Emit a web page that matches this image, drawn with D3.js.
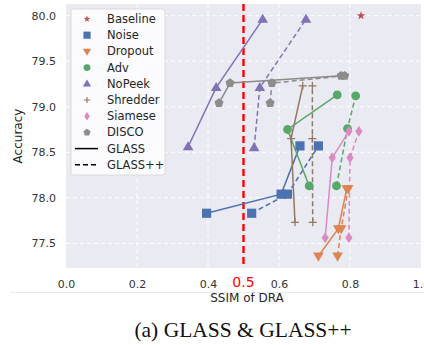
<!DOCTYPE html>
<html>
<head>
<meta charset="utf-8">
<script src="https://cdn.jsdelivr.net/npm/d3@7"></script>
<style>
  body { margin: 0; background: #fff; }
  svg { display: block; font-family: "DejaVu Sans", sans-serif; }
</style>
</head>
<body>
<div id="chart"></div>
<script>
// legend order, colours (seaborn "deep")
const methods = ["Baseline", "Noise", "Dropout", "Adv", "NoPeek", "Shredder", "Siamese", "DISCO"];
const colors  = ["#C44E52", "#4C72B0", "#DD8452", "#55A868", "#8172B3", "#937860", "#DA8BC3", "#8C8C8C"];
const shapes  = ["star", "square", "triDown", "circle", "triUp", "plus", "thinDiamond", "pentagon"];

// [SSIM, accuracy] points
const baseline     = [[0.831, 80.0]];
const noiseGlass   = [[0.396, 77.83], [0.606, 78.04], [0.659, 78.57]];
const noiseGlassPP = [[0.523, 77.83], [0.624, 78.04], [0.711, 78.57]];
const dropGlass    = [[0.711, 77.36], [0.767, 77.66], [0.791, 78.10]];
const dropGlassPP  = [[0.765, 77.36], [0.775, 77.66], [0.795, 78.10]];
const advGlass     = [[0.685, 78.13], [0.624, 78.75], [0.764, 79.13]];
const advGlassPP   = [[0.762, 78.13], [0.793, 78.76], [0.816, 79.12]];
const nopeekGlass  = [[0.344, 78.56], [0.423, 79.21], [0.554, 79.96]];
const nopeekGlassPP= [[0.530, 78.55], [0.546, 79.21], [0.676, 79.96]];
const shredGlass   = [[0.645, 77.73], [0.634, 78.65], [0.667, 79.23]];
const shredGlassPP = [[0.695, 77.73], [0.694, 78.65], [0.694, 79.23]];
const siamGlass    = [[0.730, 77.56], [0.750, 78.44], [0.797, 78.73]];
const siamGlassPP  = [[0.797, 77.56], [0.800, 78.44], [0.825, 78.73]];
const discoGlass   = [[0.431, 79.04], [0.462, 79.26], [0.775, 79.34]];
const discoGlassPP = [[0.575, 79.04], [0.580, 79.26], [0.785, 79.34]];

const xTicks = [0.0, 0.2, 0.4, 0.6, 0.8, 1.0];
const yTicks = [77.5, 78.0, 78.5, 79.0, 79.5, 80.0];
const threshold = 0.5;

const series = [
  {name: "Noise", pts: noiseGlass, dash: false}, {name: "Noise", pts: noiseGlassPP, dash: true},
  {name: "Dropout", pts: dropGlass, dash: false}, {name: "Dropout", pts: dropGlassPP, dash: true},
  {name: "Adv", pts: advGlass, dash: false}, {name: "Adv", pts: advGlassPP, dash: true},
  {name: "NoPeek", pts: nopeekGlass, dash: false}, {name: "NoPeek", pts: nopeekGlassPP, dash: true},
  {name: "Shredder", pts: shredGlass, dash: false}, {name: "Shredder", pts: shredGlassPP, dash: true},
  {name: "Siamese", pts: siamGlass, dash: false}, {name: "Siamese", pts: siamGlassPP, dash: true},
  {name: "DISCO", pts: discoGlass, dash: false}, {name: "DISCO", pts: discoGlassPP, dash: true}
];

const W = 424, H = 345;
const plot = {left: 66, right: 421, top: 4, bottom: 268};

const x = d3.scaleLinear().domain([0, 1]).range([plot.left, plot.right]);
const y = d3.scaleLinear().domain([77.5, 80.0]).range([243.3, 15.7]);
y.domain([y.invert(plot.bottom), y.invert(plot.top)]).range([plot.bottom, plot.top]);

const colorOf = d3.scaleOrdinal().domain(methods).range(colors);
const shapeOf = d3.scaleOrdinal().domain(methods).range(shapes);

// marker path generator, s = scale
function markerPath(shape, s) {
  const p = d3.path();
  if (shape === "square") {
    const h = 4.6 * s; p.rect(-h, -h, 2 * h, 2 * h);
  } else if (shape === "circle") {
    p.arc(0, 0, 4.4 * s, 0, 2 * Math.PI);
  } else if (shape === "triUp") {
    const r = 5.6 * s;
    p.moveTo(0, -r); p.lineTo(r * 0.95, r * 0.62); p.lineTo(-r * 0.95, r * 0.62); p.closePath();
  } else if (shape === "triDown") {
    const r = 5.6 * s;
    p.moveTo(0, r); p.lineTo(r * 0.95, -r * 0.62); p.lineTo(-r * 0.95, -r * 0.62); p.closePath();
  } else if (shape === "thinDiamond") {
    const w = 3.6 * s, h = 5.4 * s;
    p.moveTo(0, -h); p.lineTo(w, 0); p.lineTo(0, h); p.lineTo(-w, 0); p.closePath();
  } else if (shape === "pentagon") {
    const r = 4.8 * s;
    for (let i = 0; i < 5; i++) {
      const a = -Math.PI / 2 + i * 2 * Math.PI / 5;
      i ? p.lineTo(r * Math.cos(a), r * Math.sin(a)) : p.moveTo(r * Math.cos(a), r * Math.sin(a));
    }
    p.closePath();
  } else if (shape === "star") {
    const R = 4.4 * s, r = R * 0.42;
    for (let i = 0; i < 10; i++) {
      const a = -Math.PI / 2 + i * Math.PI / 5, rr = i % 2 ? r : R;
      i ? p.lineTo(rr * Math.cos(a), rr * Math.sin(a)) : p.moveTo(rr * Math.cos(a), rr * Math.sin(a));
    }
    p.closePath();
  } else if (shape === "plus") {
    const h = 4 * s;
    p.moveTo(-h, 0); p.lineTo(h, 0); p.moveTo(0, -h); p.lineTo(0, h);
  }
  return p.toString();
}

function drawMarker(g, name, s) {
  const shape = shapeOf(name), c = colorOf(name);
  const m = g.append("path").attr("d", markerPath(shape, s));
  if (shape === "plus") m.attr("fill", "none").attr("stroke", c).attr("stroke-width", 1.2);
  else m.attr("fill", c);
  return m;
}

const svg = d3.select("#chart").append("svg").attr("width", W).attr("height", H);

// background + grid
svg.append("rect")
  .attr("x", plot.left).attr("y", plot.top)
  .attr("width", plot.right - plot.left).attr("height", plot.bottom - plot.top)
  .attr("fill", "#EAEAF2");

const grid = svg.append("g").attr("class", "grid")
  .attr("stroke", "#fff").attr("stroke-width", 1).attr("stroke-dasharray", "4,3");
grid.selectAll("line.v").data(xTicks.filter(t => t > 0 && t < 1)).join("line").attr("class", "v")
  .attr("x1", d => x(d)).attr("x2", d => x(d)).attr("y1", plot.top).attr("y2", plot.bottom);
grid.selectAll("line.h").data(yTicks).join("line").attr("class", "h")
  .attr("x1", plot.left).attr("x2", plot.right).attr("y1", d => y(d)).attr("y2", d => y(d));

// axes (labels only, seaborn style)
const xAxis = svg.append("g").attr("transform", `translate(0,${plot.bottom})`)
  .call(d3.axisBottom(x).tickValues(xTicks).tickFormat(d3.format(".1f")).tickSize(0).tickPadding(12));
xAxis.select(".domain").remove();
xAxis.selectAll("text").attr("font-size", 11).attr("fill", "#333")
  .attr("font-family", "DejaVu Sans, sans-serif");

const yAxis = svg.append("g").attr("transform", `translate(${plot.left},0)`)
  .call(d3.axisLeft(y).tickValues(yTicks).tickFormat(d3.format(".1f")).tickSize(0).tickPadding(10));
yAxis.select(".domain").remove();
yAxis.selectAll("text").attr("font-size", 11).attr("fill", "#333")
  .attr("font-family", "DejaVu Sans, sans-serif");

// threshold line
svg.append("line")
  .attr("x1", x(threshold)).attr("x2", x(threshold))
  .attr("y1", plot.top).attr("y2", plot.bottom)
  .attr("stroke", "#ff0000").attr("stroke-width", 2.4).attr("stroke-dasharray", "7,4");
svg.append("text")
  .attr("x", x(threshold)).attr("y", 287)
  .attr("text-anchor", "middle").attr("fill", "#ff0000").attr("font-size", 14)
  .text("0.5");

// lines + markers
const line = d3.line().x(d => x(d[0])).y(d => y(d[1]));
const dataG = svg.append("g").attr("class", "series");
series.forEach(s => {
  dataG.append("path").datum(s.pts)
    .attr("d", line).attr("fill", "none")
    .attr("stroke", colorOf(s.name)).attr("stroke-width", 1.5)
    .attr("stroke-dasharray", s.dash ? "5,3" : null);
});
series.forEach(s => {
  s.pts.forEach(p => {
    const g = dataG.append("g").attr("transform", `translate(${x(p[0])},${y(p[1])})`);
    drawMarker(g, s.name, 1);
  });
});
baseline.forEach(p => {
  const g = dataG.append("g").attr("transform", `translate(${x(p[0])},${y(p[1])})`);
  drawMarker(g, "Baseline", 1);
});

// legend
const leg = svg.append("g").attr("class", "legend");
leg.append("rect").attr("x", 71).attr("y", 9).attr("width", 94).attr("height", 166)
  .attr("rx", 3).attr("fill", "#fff").attr("fill-opacity", 0.8)
  .attr("stroke", "#d6d6d6").attr("stroke-width", 0.8);
const legItems = methods.concat(["GLASS", "GLASS++"]);
legItems.forEach((name, i) => {
  const yy = 19 + i * 16.2;
  const g = leg.append("g").attr("transform", `translate(87,${yy})`);
  if (name === "GLASS" || name === "GLASS++") {
    g.append("line").attr("x1", -12).attr("x2", 11).attr("y1", 0).attr("y2", 0)
      .attr("stroke", "#000").attr("stroke-width", 1.5)
      .attr("stroke-dasharray", name === "GLASS++" ? "5,3" : null);
  } else {
    drawMarker(g, name, 0.78);
  }
  leg.append("text").attr("x", 107).attr("y", yy).attr("dy", "0.35em")
    .attr("font-size", 11.5).attr("fill", "#262626").text(name);
});

// axis titles
svg.append("text")
  .attr("transform", `translate(22,${(plot.top + plot.bottom) / 2}) rotate(-90)`)
  .attr("text-anchor", "middle").attr("font-size", 12).attr("fill", "#262626")
  .text("Accuracy");
svg.append("text")
  .attr("x", 247).attr("y", 302)
  .attr("text-anchor", "middle").attr("font-size", 12).attr("fill", "#262626")
  .text("SSIM of DRA");

// faint page rule under the tick labels
svg.append("line").attr("x1", 10).attr("x2", W).attr("y1", 292.5).attr("y2", 292.5)
  .attr("stroke", "#e6e6e6").attr("stroke-width", 0.8);

// caption
svg.append("text")
  .attr("x", 243).attr("y", 337)
  .attr("text-anchor", "middle").attr("font-size", 21.5)
  .attr("font-family", "Liberation Serif, serif").attr("fill", "#111")
  .text("(a) GLASS & GLASS++");
</script>
</body>
</html>
